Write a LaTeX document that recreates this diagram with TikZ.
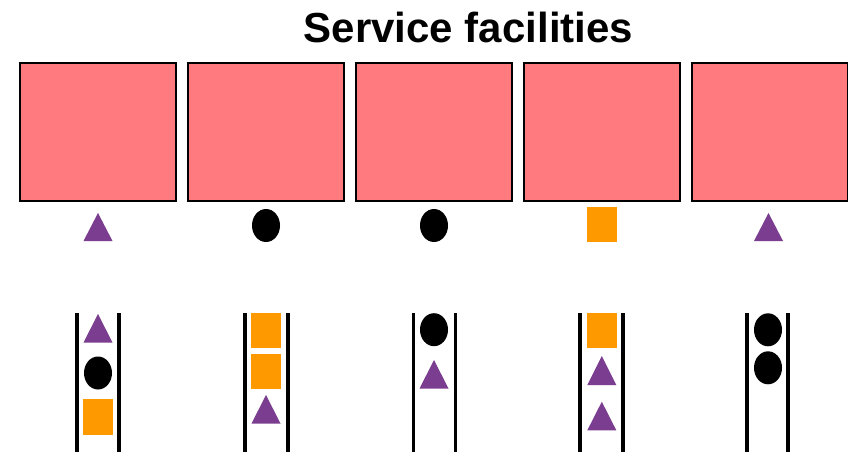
\documentclass[tikz,border=0pt]{standalone}
\usepackage{fontspec}
\setmainfont{Liberation Sans}
\usetikzlibrary{shapes.geometric}
\definecolor{facpink}{RGB}{255,122,126}
\definecolor{custpurple}{RGB}{123,61,143}
\definecolor{custorange}{RGB}{255,153,0}
\tikzset{
  facility/.style={draw=black, line width=2pt, fill=facpink, minimum width=156pt, minimum height=138pt, inner sep=0pt},
  custcircle/.style={ellipse, fill=black, minimum width=28pt, minimum height=33pt, inner sep=0pt},
  custsquare/.style={rectangle, fill=custorange, minimum width=30pt, minimum height=35pt, inner sep=0pt},
  queueline/.style={line width=3.5pt, black},
}
\newcommand{\tri}[3]{% center x, top y, bottom y
  \fill[custpurple] (#1-14.5,#3) -- (#1,#2) -- (#1+14.5,#3) -- cycle;}
\begin{document}
\begin{tikzpicture}[x=1pt,y=-1pt]
\useasboundingbox (0,0) rectangle (848,452);
\node[anchor=base, font=\fontsize{42}{50}\selectfont\bfseries] (title) at (468.5,43) {Service facilities};
% facilities
\foreach \i/\cx in {1/98,2/266,3/434,4/602,5/770}{
  \node[facility] (f\i) at (\cx,132) {};
}
% customers in service
\tri{98}{213}{241}
\node[custcircle] (s2) at (266,225.5) {};
\node[custcircle] (s3) at (434,225.5) {};
\node[custsquare] (s4) at (602,224.5) {};
\tri{768.5}{213}{241}
% queues
\foreach \l/\r in {77/119,245/288,413.5/455.5,580/623,747/788}{
  \coordinate (qa) at (\l,313); \coordinate (qb) at (\l,452);
  \draw[queueline] (qa) -- (qb);
  \coordinate (qc) at (\r,313); \coordinate (qd) at (\r,452);
  \draw[queueline] (qc) -- (qd);
}
% queue 1
\tri{98}{314}{342.5}
\node[custcircle] (q1b) at (98,373) {};
\node[custsquare, minimum height=35.5pt] (q1c) at (98,417.2) {};
% queue 2
\node[custsquare] (q2a) at (266,330.2) {};
\node[custsquare] (q2b) at (266,371.5) {};
\tri{266}{395}{423.5}
% queue 3
\node[custcircle] (q3a) at (434,329.7) {};
\tri{434}{360}{388.5}
% queue 4
\node[custsquare] (q4a) at (602,330.2) {};
\tri{601.8}{356}{385}
\tri{601.8}{401.7}{430.3}
% queue 5
\node[custcircle] (q5a) at (768,329.8) {};
\node[custcircle] (q5b) at (768,367.8) {};
\end{tikzpicture}
\end{document}
